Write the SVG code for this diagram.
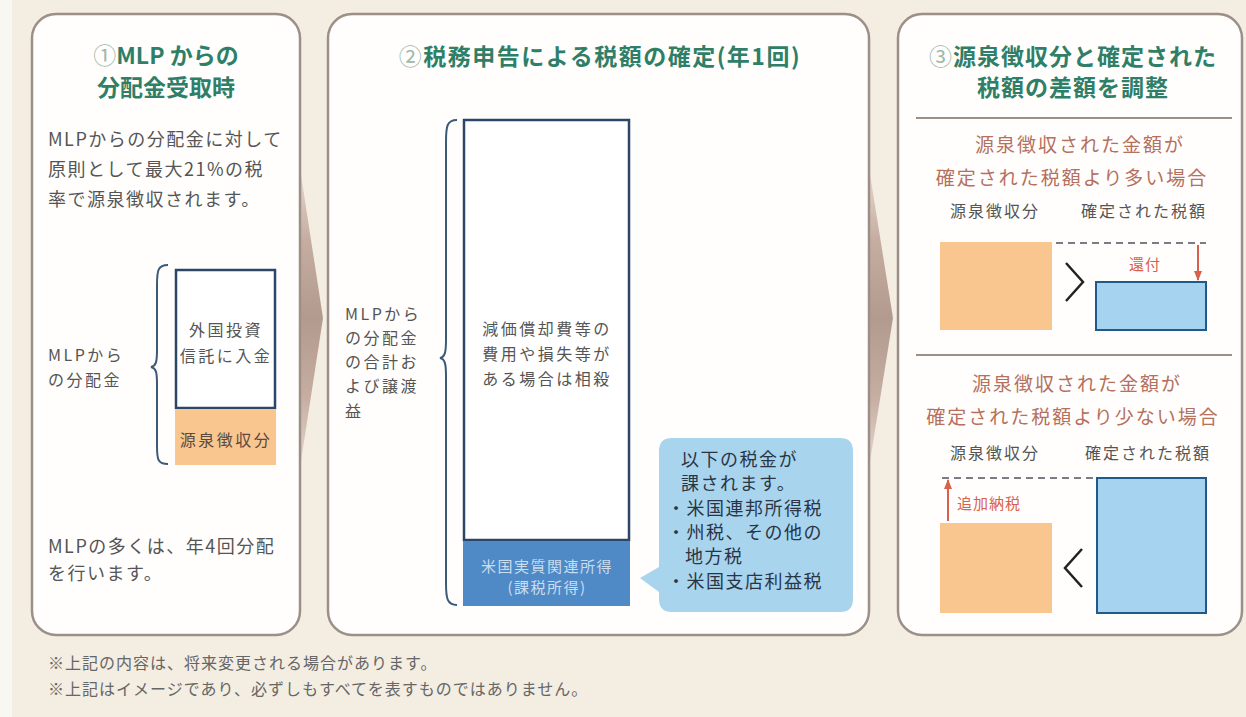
<svg xmlns="http://www.w3.org/2000/svg" width="1246" height="717" viewBox="0 0 1246 717">
<defs>
<linearGradient id="chev" x1="0" y1="0" x2="0" y2="1">
<stop offset="0" stop-color="#eadbd2"/>
<stop offset="0.25" stop-color="#c6ada2"/>
<stop offset="0.5" stop-color="#b39a8f"/>
<stop offset="0.75" stop-color="#c6ada2"/>
<stop offset="1" stop-color="#eadbd2"/>
</linearGradient>
<marker id="ah" viewBox="0 0 10 10" refX="9" refY="5" markerWidth="5" markerHeight="5" orient="auto-start-reverse">
<path d="M0,1 L10,5 L0,9 z" fill="#d9604a"/>
</marker>
<style>
text{font-family:"Noto Sans CJK JP","Noto Sans",sans-serif;}
.panel{fill:#fffefc;stroke:#9c8f88;stroke-width:2.5;}
.title{font-size:23px;font-weight:700;fill:#2f7f68;text-anchor:middle;}
.num{fill:#9db8ab;font-weight:400;}
.body{font-size:18px;fill:#555;letter-spacing:1.5px;}
.small{font-size:16px;fill:#555;letter-spacing:2.5px;}
.ctr{text-anchor:middle;}
.brace{fill:none;stroke:#3b5a7a;stroke-width:2;}
.navy{fill:#fff;stroke:#2c4668;stroke-width:2.5;}
.orange{fill:#f9c68f;}
.blue{fill:#a6d3ef;stroke:#1f5a8a;stroke-width:2;}
.red{font-size:15px;fill:#d9604a;letter-spacing:1px;}
.case{font-size:19px;fill:#b5705e;text-anchor:middle;letter-spacing:2px;}
.lbl{font-size:16px;fill:#555;text-anchor:middle;letter-spacing:2px;}
.div{stroke:#9c8f88;stroke-width:2;}
.dash{stroke:#7c7c84;stroke-width:2;stroke-dasharray:7 5;fill:none;}
.cmp{fill:none;stroke:#222;stroke-width:2.5;}
.bub{font-size:18px;fill:#2a3445;letter-spacing:1.5px;}
.foot{font-size:16px;fill:#666;letter-spacing:1px;}
</style>
</defs>
<rect x="0" y="0" width="1246" height="717" fill="#f3ede2"/>
<rect x="0" y="0" width="12" height="717" fill="#f9f7f1"/>

<g id="connectors">
<polygon points="299,162 323,318 299,474" fill="url(#chev)"/>
<polygon points="868,162 893,318 868,474" fill="url(#chev)"/>
</g>

<g id="panel1">
<rect class="panel" x="32" y="14" width="268" height="621" rx="24"/>
<text class="title" x="166" y="64"><tspan class="num">①</tspan>MLP からの</text>
<text class="title" x="166" y="96">分配金受取時</text>
<text class="body" x="48" y="146">MLPからの分配金に対して</text>
<text class="body" x="48" y="176">原則として最大21%の税</text>
<text class="body" x="48" y="206">率で源泉徴収されます。</text>
<text class="small" x="48" y="361">MLPから</text>
<text class="small" x="48" y="386">の分配金</text>
<path class="brace" d="M168,265 C158,265 157,270 157,285 L157,350 C157,362 156,366 151,367 C156,368 157,372 157,384 L157,446 C157,460 158,464 168,464"/>
<rect class="navy" x="176" y="270" width="99" height="138"/>
<text class="small ctr" x="226" y="336">外国投資</text>
<text class="small ctr" x="226" y="362">信託に入金</text>
<rect class="orange" x="175" y="409" width="101" height="56"/>
<text class="small ctr" x="226" y="446" style="fill:#5a4a40">源泉徴収分</text>
<text class="body" x="48" y="553">MLPの多くは、年4回分配</text>
<text class="body" x="48" y="580">を行います。</text>
</g>

<g id="panel2">
<rect class="panel" x="328" y="14" width="541" height="621" rx="24"/>
<text class="title" x="600" y="65" style="letter-spacing:1.5px"><tspan class="num">②</tspan>税務申告による税額の確定(年1回)</text>
<text class="small" x="345" y="320">MLPから</text>
<text class="small" x="345" y="344">の分配金</text>
<text class="small" x="345" y="368">の合計お</text>
<text class="small" x="345" y="392">よび譲渡</text>
<text class="small" x="345" y="417">益</text>
<path class="brace" d="M457,120 C447,120 446,126 446,142 L446,340 C446,352 445,357 440,358 C445,359 446,364 446,376 L446,583 C446,598 447,605 457,605"/>
<rect class="navy" x="464" y="120" width="165" height="420"/>
<text class="small ctr" x="547" y="335">減価償却費等の</text>
<text class="small ctr" x="547" y="360">費用や損失等が</text>
<text class="small ctr" x="547" y="385">ある場合は相殺</text>
<rect x="463" y="541" width="167" height="65" fill="#4f8ac6"/>
<text class="ctr" x="547" y="572" style="font-size:15px;fill:#c9ddf0;letter-spacing:1.5px">米国実質関連所得</text>
<text class="ctr" x="547" y="593" style="font-size:15px;fill:#c9ddf0;letter-spacing:1.5px">(課税所得)</text>
<path d="M672,438 H840 Q853,438 853,451 V599 Q853,612 840,612 H672 Q659,612 659,599 V592 L640,578 L659,567 V451 Q659,438 672,438 Z" fill="#a8d4ee"/>
<text class="bub" x="681" y="466">以下の税金が</text>
<text class="bub" x="681" y="490">課されます。</text>
<text class="bub" x="667" y="515">・米国連邦所得税</text>
<text class="bub" x="667" y="539">・州税、その他の</text>
<text class="bub" x="685" y="563">地方税</text>
<text class="bub" x="667" y="588">・米国支店利益税</text>
</g>

<g id="panel3">
<rect class="panel" x="898" y="14" width="344" height="621" rx="24"/>
<text class="title" x="1073" y="65" style="letter-spacing:1px"><tspan class="num">③</tspan>源泉徴収分と確定された</text>
<text class="title" x="1073" y="96" style="letter-spacing:1px">税額の差額を調整</text>
<line class="div" x1="916" y1="118" x2="1232" y2="118"/>
<text class="case" x="1080" y="152">源泉徴収された金額が</text>
<text class="case" x="1072" y="185">確定された税額より多い場合</text>
<text class="lbl" x="995" y="217">源泉徴収分</text>
<text class="lbl" x="1144" y="217">確定された税額</text>
<rect class="orange" x="940" y="242" width="112" height="88"/>
<path class="cmp" d="M1066,263 L1083,282 L1066,301"/>
<line class="dash" x1="1056" y1="243" x2="1206" y2="243"/>
<rect class="blue" x="1096" y="282" width="110" height="48"/>
<line x1="1198" y1="245" x2="1198" y2="280" stroke="#d9604a" stroke-width="2" marker-end="url(#ah)"/>
<text class="red" x="1129" y="270">還付</text>
<line class="div" x1="916" y1="355" x2="1232" y2="355"/>
<text class="case" x="1077" y="391">源泉徴収された金額が</text>
<text class="case" x="1073" y="424">確定された税額より少ない場合</text>
<text class="lbl" x="995" y="459">源泉徴収分</text>
<text class="lbl" x="1148" y="459">確定された税額</text>
<line class="dash" x1="942" y1="478" x2="1094" y2="478"/>
<rect class="blue" x="1097" y="478" width="109" height="135"/>
<line x1="948" y1="480" x2="948" y2="521" stroke="#d9604a" stroke-width="2" marker-start="url(#ah)"/>
<text class="red" x="957" y="509">追加納税</text>
<rect class="orange" x="940" y="523" width="112" height="90"/>
<path class="cmp" d="M1082,549 L1065,568 L1082,587"/>
</g>

<g id="footer">
<text class="foot" x="48" y="669">※上記の内容は、将来変更される場合があります。</text>
<text class="foot" x="48" y="695">※上記はイメージであり、必ずしもすべてを表すものではありません。</text>
</g>
</svg>
